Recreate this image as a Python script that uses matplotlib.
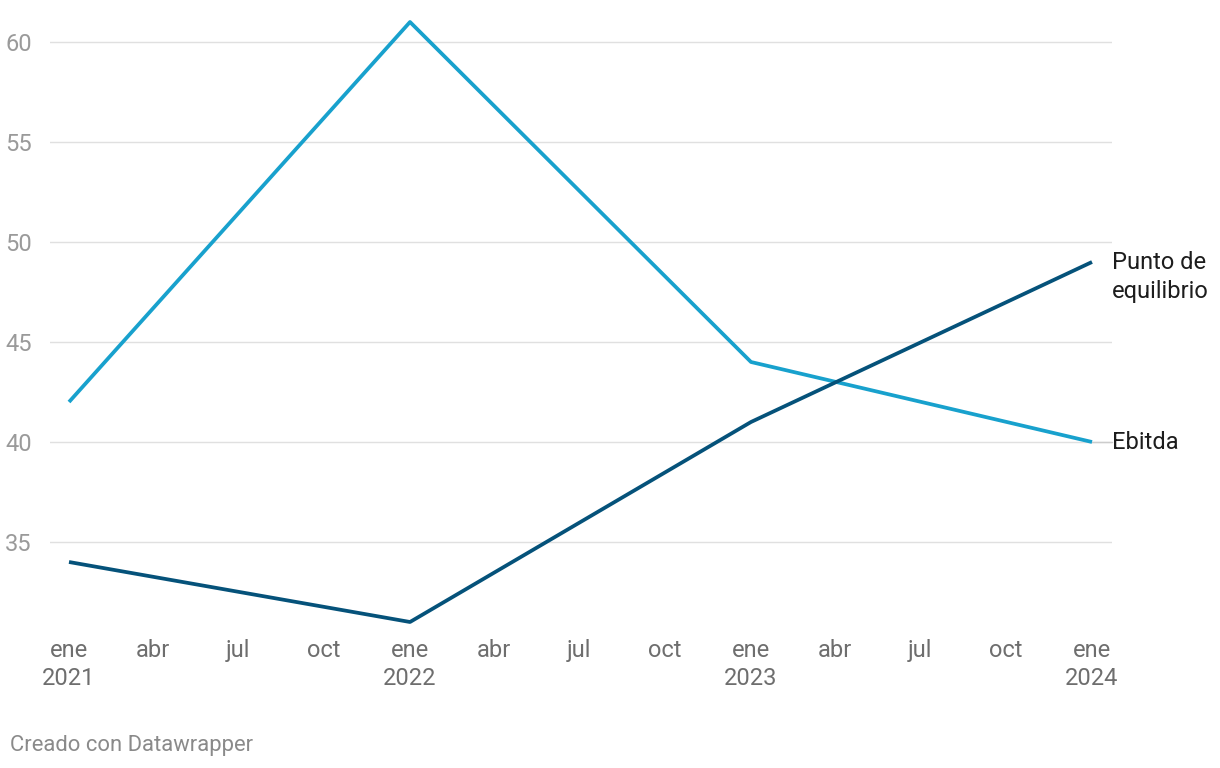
import datetime as dt

import matplotlib
matplotlib.use("Agg")
import matplotlib.pyplot as plt
import matplotlib.dates as mdates

plt.rcParams["font.family"] = ["Roboto", "DejaVu Sans"]

dates = [dt.date(2021, 1, 1), dt.date(2022, 1, 1), dt.date(2023, 1, 1), dt.date(2024, 1, 1)]
ebitda = [42, 61, 44, 40]
equilibrio = [34, 31, 41, 49]

month_names = {1: "ene", 4: "abr", 7: "jul", 10: "oct"}
y_ticks = [35, 40, 45, 50, 55, 60]

LIGHT = "#18a1cd"
DARK = "#05527a"

fig = plt.figure(figsize=(12.2, 7.68), dpi=100)
ax = fig.add_axes([50 / 1220, 146 / 768, 1062 / 1220, 600 / 768])

ax.plot(dates, ebitda, color=LIGHT, lw=2.7, clip_on=False, solid_capstyle="butt", zorder=3)
ax.plot(dates, equilibrio, color=DARK, lw=2.7, clip_on=False, solid_capstyle="butt", zorder=3)

x0 = mdates.date2num(dates[0])
x1 = mdates.date2num(dates[-1])
per_px = (x1 - x0) / (1092 - 69)
ax.set_xlim(x0 - 19 * per_px, x1 + 20 * per_px)
ax.set_ylim(31, 61)

ax.set_yticks(y_ticks)
ax.grid(axis="y", color="#e0e0e0", lw=1)
ax.set_axisbelow(True)
for s in ax.spines.values():
    s.set_visible(False)
ax.tick_params(axis="y", length=0, pad=13, labelsize=17, labelcolor="#9a9a9a")

ticks = []
labels = []
for y in range(2021, 2025):
    for m in (1, 4, 7, 10):
        d = dt.date(y, m, 1)
        if d > dates[-1]:
            break
        ticks.append(mdates.date2num(d))
        labels.append(f"{month_names[m]}\n{y}" if m == 1 else month_names[m])
ax.set_xticks(ticks)
ax.set_xticklabels(labels, linespacing=1.3)
ax.tick_params(axis="x", length=0, pad=12, labelsize=17, labelcolor="#6e6e6e")

# series labels at the right end
ax.plot([x1, x1 + 20 * per_px], [ebitda[-1], ebitda[-1]], color="#cccccc", lw=1,
        clip_on=False, zorder=2)
ax.annotate("Ebitda", xy=(dates[-1], ebitda[-1]), xytext=(20, -1), textcoords="offset pixels",
            va="center", ha="left", fontsize=17, color="#1d1d1d", annotation_clip=False)
ax.annotate("Punto de\nequilibrio", xy=(dates[-1], equilibrio[-1]), xytext=(20, 11),
            textcoords="offset pixels", va="top", ha="left", fontsize=17, color="#1d1d1d",
            linespacing=1.32, annotation_clip=False)

fig.text(10 / 1220, 1 - 745 / 768, "Creado con Datawrapper", fontsize=15.8,
         color="#8a8a8a", va="center", ha="left")

fig.savefig("out.png", dpi=100)
